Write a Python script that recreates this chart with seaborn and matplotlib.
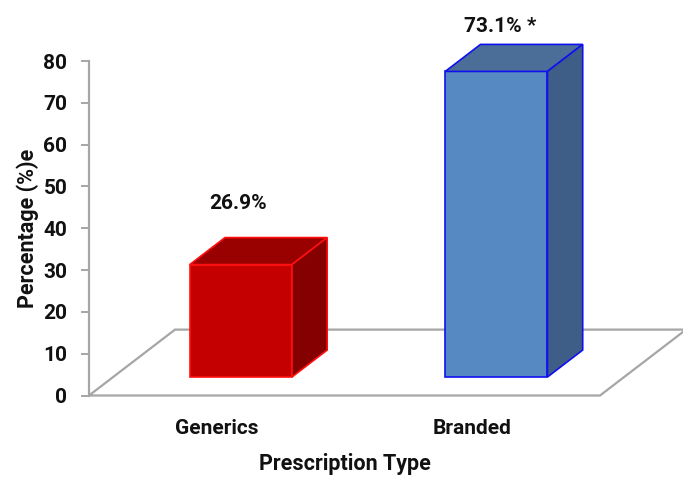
import matplotlib
matplotlib.use("Agg")
import matplotlib.pyplot as plt
from matplotlib.patches import Polygon
import seaborn as sns

# Share of prescriptions by type
categories = ["Generics", "Branded"]
values = [26.9, 73.1]
value_labels = ["26.9%", "73.1% *"]
y_ticks = [0, 10, 20, 30, 40, 50, 60, 70, 80]

front_colors = ["#C40000", "#5689C2"]
top_colors = ["#990000", "#4A6E98"]
side_colors = ["#850000", "#3E5E88"]
edge_colors = ["#FF1010", "#1010F0"]

sns.set_theme(style="white")
plt.rcParams["font.family"] = ["Roboto", "DejaVu Sans"]
plt.rcParams["font.weight"] = "bold"

fig = plt.figure(figsize=(6.83, 4.79), dpi=100)
ax = fig.add_axes([0.1303, 0.1743, 0.7482, 0.6983])

ax.set_xlim(-0.5, 1.5)
ax.set_ylim(0, 80)

# oblique projection: floor depth vector in data units
floor_dx, floor_dy = 0.3366, 15.76
front_frac, back_frac = 0.28, 0.69

sns.barplot(x=categories, y=values, hue=categories, palette=front_colors,
            width=0.4, legend=False, ax=ax, zorder=3, linewidth=1.2)

# floor of the chart
x0, x1 = ax.get_xlim()
floor = Polygon([(x0, 0), (x1, 0), (x1 + floor_dx, floor_dy), (x0 + floor_dx, floor_dy)],
                closed=True, fill=False, edgecolor="#A6A6A6", linewidth=1.6,
                clip_on=False, zorder=1)
ax.add_patch(floor)

fx, fy = floor_dx * front_frac, floor_dy * front_frac
ddx = floor_dx * (back_frac - front_frac)
ddy = floor_dy * (back_frac - front_frac)

for i, patch in enumerate(ax.patches[:len(values)]):
    x = patch.get_x()
    w = patch.get_width()
    h = patch.get_height()
    patch.set_x(x + fx)
    patch.set_y(fy)
    patch.set_edgecolor(edge_colors[i])
    patch.set_facecolor(front_colors[i])
    patch.set_clip_on(False)
    xl, xr = x + fx, x + fx + w
    yb, yt = fy, fy + h
    top = Polygon([(xl, yt), (xr, yt), (xr + ddx, yt + ddy), (xl + ddx, yt + ddy)],
                  closed=True, facecolor=top_colors[i], edgecolor=edge_colors[i],
                  linewidth=1.2, clip_on=False, zorder=3)
    side = Polygon([(xr, yb), (xr + ddx, yb + ddy), (xr + ddx, yt + ddy), (xr, yt)],
                   closed=True, facecolor=side_colors[i], edgecolor=edge_colors[i],
                   linewidth=1.2, clip_on=False, zorder=3)
    ax.add_patch(top)
    ax.add_patch(side)

# value labels above each bar
label_dx = [0.084, 0.11]
label_dy = [19.1, 15.2]
for i, (v, lab) in enumerate(zip(values, value_labels)):
    ax.text(i + label_dx[i], v + label_dy[i], lab, ha="center", va="center",
            fontsize=15, fontweight="bold", color="#111111", clip_on=False)

sns.despine(ax=ax, left=False, bottom=True)
ax.spines["left"].set_color("#A6A6A6")
ax.spines["left"].set_linewidth(1.6)
ax.set_yticks(y_ticks)
ax.set_yticklabels([str(t) for t in y_ticks], fontsize=15, fontweight="bold", color="#111111")
ax.tick_params(axis="y", left=True, length=5.5, width=1.4, color="#A6A6A6", pad=10)
ax.tick_params(axis="x", bottom=False, pad=11)
for lbl in ax.get_xticklabels():
    lbl.set_fontsize(15)
    lbl.set_fontweight("bold")
    lbl.set_color("#111111")

ax.set_xlabel("Prescription Type", fontsize=15.5, fontweight="bold", color="#111111", labelpad=11)
ax.set_ylabel("Percentage (%)e", fontsize=15.5, fontweight="bold", color="#111111", labelpad=3)
ax.grid(False)

fig.savefig("out.png", dpi=100)
